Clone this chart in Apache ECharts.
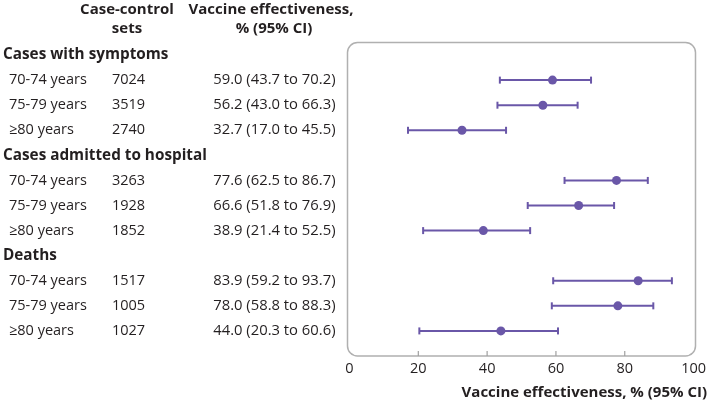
<!DOCTYPE html>
<html>
<head>
<meta charset="utf-8">
<script src="https://cdn.jsdelivr.net/npm/echarts@6/dist/echarts.min.js"></script>
<style>html,body{margin:0;padding:0;background:#fff}#c{width:709px;height:403px}</style>
</head>
<body>
<div id="c"></div>
<script>
// ---- data ----
const groups = ['Cases with symptoms', 'Cases admitted to hospital', 'Deaths'];
const ages = ['70-74 years', '75-79 years', '≥80 years'];
const caseSets = [7024, 3519, 2740, 3263, 1928, 1852, 1517, 1005, 1027];
const ve = [59.0, 56.2, 32.7, 77.6, 66.6, 38.9, 83.9, 78.0, 44.0];
const ciLower = [43.7, 43.0, 17.0, 62.5, 51.8, 21.4, 59.2, 58.8, 20.3];
const ciUpper = [70.2, 66.3, 45.5, 86.7, 76.9, 52.5, 93.7, 88.3, 60.6];
const xTicks = [0, 20, 40, 60, 80, 100];
const xInnerTicks = [20, 40, 60, 80];
const colHeader1 = ['Case-control', 'sets'];
const colHeader2 = ['Vaccine effectiveness,', '% (95% CI)'];
const xTitle = 'Vaccine effectiveness, % (95% CI)';

// ---- build rows ----
const FONT = 'Open Sans';
const PURPLE = '#6a57a8';
const TXT = '#231f20';
const rowLabel = [], rowCount = [], rowVE = [], rowPos = [];
const pointRows = [];
let r = 0;
groups.forEach((g, gi) => {
  rowLabel.push('{h|' + g + '}'); rowCount.push(''); rowVE.push(''); rowPos.push(r); r++;
  ages.forEach((a, ai) => {
    const k = gi * 3 + ai;
    rowLabel.push('{a|' + a + '}');
    rowCount.push(String(caseSets[k]));
    rowVE.push(ve[k].toFixed(1) + ' (' + ciLower[k].toFixed(1) + ' to ' + ciUpper[k].toFixed(1) + ')');
    rowPos.push(r);
    pointRows.push(r);
    r++;
  });
});

const Y_MIN = -0.5, Y_MAX = 12;
const gridLeft = 347.5, gridTop = 42.5, gridW = 348, gridH = 313.5;

const baseY = {
  type: 'value', min: Y_MIN, max: Y_MAX, inverse: true, position: 'left',
  axisLine: {show: false}, axisTick: {show: false}, splitLine: {show: false}
};

const chart = echarts.init(document.getElementById('c'));
chart.setOption({
  animation: false,
  backgroundColor: '#fff',
  textStyle: {fontFamily: FONT},
  grid: {left: gridLeft, top: gridTop, width: gridW, height: gridH},
  xAxis: {
    type: 'value', min: 0, max: 100, interval: 20, position: 'bottom',
    axisLine: {show: false, onZero: false},
    splitLine: {show: false},
    axisTick: {show: false},
    axisLabel: {customValues: xTicks, color: TXT, fontSize: 14.5, fontFamily: FONT, margin: 5}
  },
  yAxis: [
    Object.assign({}, baseY, {
      axisLabel: {
        customValues: rowPos, align: 'left', margin: gridLeft - 1,
        formatter: (v) => rowLabel[Math.round(v)],
        rich: {
          h: {fontWeight: 'bold', fontSize: 15.3, color: TXT, fontFamily: FONT},
          a: {fontSize: 14.5, color: TXT, fontFamily: FONT, padding: [0, 0, 0, 6]}
        }
      }
    }),
    Object.assign({}, baseY, {
      axisLabel: {
        customValues: rowPos, align: 'left', margin: gridLeft - 110,
        color: TXT, fontSize: 14.5, fontFamily: FONT,
        formatter: (v) => rowCount[Math.round(v)]
      }
    }),
    Object.assign({}, baseY, {
      axisLabel: {
        customValues: rowPos, align: 'right', margin: gridLeft - 333.5,
        color: TXT, fontSize: 14.8, fontFamily: FONT,
        formatter: (v) => rowVE[Math.round(v)]
      }
    })
  ],
  graphic: [
    {type: 'rect', z: -1, shape: {x: gridLeft, y: gridTop, width: gridW, height: gridH, r: 10},
     style: {fill: 'none', stroke: '#b0b0b0', lineWidth: 1.5}},
    {type: 'text', x: 127, y: 10, style: {text: colHeader1[0], font: 'bold 15px "' + FONT + '"', fill: TXT, align: 'center', verticalAlign: 'middle'}},
    {type: 'text', x: 127, y: 29, style: {text: colHeader1[1], font: 'bold 15px "' + FONT + '"', fill: TXT, align: 'center', verticalAlign: 'middle'}},
    {type: 'text', x: 271, y: 10, style: {text: colHeader2[0], font: 'bold 15px "' + FONT + '"', fill: TXT, align: 'center', verticalAlign: 'middle'}},
    {type: 'text', x: 274, y: 29, style: {text: colHeader2[1], font: 'bold 15px "' + FONT + '"', fill: TXT, align: 'center', verticalAlign: 'middle'}},
    {type: 'text', x: 707, y: 393, style: {text: xTitle, font: 'bold 15px "' + FONT + '"', fill: TXT, align: 'right', verticalAlign: 'middle'}}
  ],
  series: [
    {
      // inner tick marks on the bottom edge of the frame
      type: 'custom',
      xAxisIndex: 0, yAxisIndex: 0,
      clip: false, silent: true,
      data: xInnerTicks.map(v => [v, Y_MAX]),
      renderItem: function (params, api) {
        const p = api.coord([api.value(0), api.value(1)]);
        return {type: 'line', shape: {x1: p[0], y1: p[1], x2: p[0], y2: p[1] - 5},
                style: {stroke: '#a0a0a0', lineWidth: 1.2}};
      }
    },
    {
      type: 'custom',
      xAxisIndex: 0, yAxisIndex: 0,
      data: pointRows.map((y, i) => [ciLower[i], ciUpper[i], y]),
      encode: {x: [0, 1], y: 2},
      renderItem: function (params, api) {
        const p1 = api.coord([api.value(0), api.value(2)]);
        const p2 = api.coord([api.value(1), api.value(2)]);
        const h = 3.5;
        const st = {stroke: PURPLE, lineWidth: 2};
        return {
          type: 'group',
          children: [
            {type: 'line', shape: {x1: p1[0], y1: p1[1], x2: p2[0], y2: p2[1]}, style: st},
            {type: 'line', shape: {x1: p1[0], y1: p1[1] - h, x2: p1[0], y2: p1[1] + h}, style: st},
            {type: 'line', shape: {x1: p2[0], y1: p2[1] - h, x2: p2[0], y2: p2[1] + h}, style: st}
          ]
        };
      }
    },
    {
      type: 'scatter',
      xAxisIndex: 0, yAxisIndex: 0,
      symbol: 'circle', symbolSize: 9,
      itemStyle: {color: PURPLE, opacity: 1},
      data: pointRows.map((y, i) => [ve[i], y]),
      z: 5
    }
  ]
});
</script>
</body>
</html>
